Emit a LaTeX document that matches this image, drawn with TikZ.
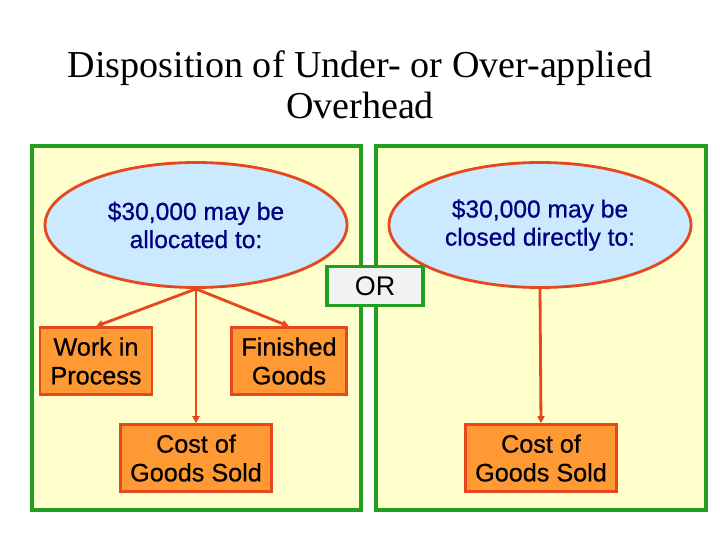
\documentclass[tikz,border=0pt]{standalone}
\usepackage{fontspec}
\setmainfont{Liberation Serif}
\setsansfont{Liberation Sans}
\newfontfamily\heavysans[BoldFont={Liberation Sans},BoldFeatures={FakeBold=0.6}]{Liberation Sans}
\usetikzlibrary{arrows.meta}
\usetikzlibrary{shapes.geometric}
\definecolor{panelfill}{RGB}{255,255,204}
\definecolor{panelgreen}{RGB}{34,158,34}
\definecolor{bubblefill}{RGB}{204,234,255}
\definecolor{redline}{RGB}{228,72,28}
\definecolor{boxfill}{RGB}{255,153,51}
\definecolor{navytext}{RGB}{0,0,128}
\definecolor{orfill}{RGB}{242,242,242}
\begin{document}
\begin{tikzpicture}[x=0.03cm,y=-0.03cm]
		  \tikzset{
			panel/.style={draw=panelgreen,fill=panelfill,line width=3pt},
			bubble/.style={ellipse,draw=redline,fill=bubblefill,line width=2.4pt,
			  minimum width=9.06cm,minimum height=3.75cm,inner sep=0pt,
			  text=navytext,align=center,font=\heavysans\bfseries\fontsize{21}{24}\selectfont},
			acct/.style={draw=redline,fill=boxfill,line width=2.4pt,
			  minimum height=2cm,inner sep=0pt,align=center,
			  font=\heavysans\bfseries\fontsize{21.5}{24.5}\selectfont},
			orbox/.style={draw=panelgreen,fill=orfill,line width=3pt,
			  minimum width=2.88cm,minimum height=1.17cm,inner sep=0pt,
			  font=\sffamily\fontsize{23}{26}\selectfont},
			flow/.style={draw=redline,line width=2.4pt,-{Triangle[length=6pt,width=6pt]}},
		  }
		  \useasboundingbox[fill=white] (0,0) rectangle (720,540);
		  %TITLE
		  \node[font=\fontsize{32.5}{35}\selectfont,align=center,anchor=base] (title) at (360,119)
			{Disposition of Under- or Over-applied\\Overhead};
		  %PANELS
		  \draw[panel] (32,146) rectangle (361,510);
		  \draw[panel] (376,146) rectangle (706,510);
		  %ELLIPSES
		  \node[bubble] (alloc) at (196,225) {\$30,000 may be\\allocated to:};
		  \node[bubble] (close) at (540,225) {\$30,000 may be\\closed directly to:};
		  %OR
		  \node[orbox] (or) at (375,286) {OR};
		  %ACCOUNTS LEFT
		  \node[acct,minimum width=3.36cm] (wip) at (96,361) {Work in\\Process};
		  \node[acct,minimum width=3.45cm] (fg) at (289,361) {Finished\\Goods};
		  \node[acct,minimum width=4.53cm] (cogsA) at (196,458) {Cost of\\Goods Sold};
		  %ACCOUNTS RIGHT
		  \node[acct,minimum width=4.53cm] (cogsB) at (541,458) {Cost of\\Goods Sold};
		  %ARROWS
		  \draw[flow] (alloc.south) -- (wip.north);
		  \draw[flow] (alloc.south) -- (fg.north);
		  \draw[flow] (alloc.south) -- (cogsA.north);
		  \draw[flow] (close.south) -- (cogsB.north);
		  \end{tikzpicture}
\end{document}
